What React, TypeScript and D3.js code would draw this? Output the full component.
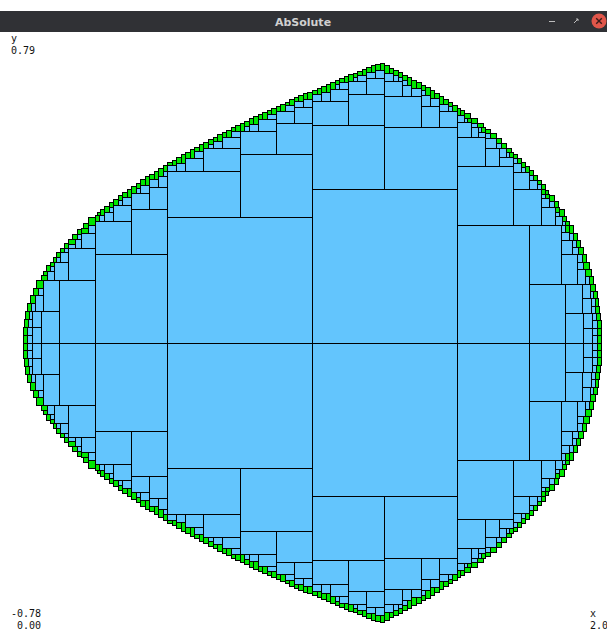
import React, { useMemo } from "react";
import * as d3 from "d3";

// Problem solved by AbSolute (interval paving of a 2D constraint system)
// constraint 1: E0*x^2 + E1*y^2 <= E2   (ellipse)
const ELLIPSE = [1, 4, 4];
// constraint 2: P0*y^2 <= x             (parabola)
const PARABOLA = [2];
// initial variable domains
const START_X = [-10, 10];
const START_Y = [-10, 10];
// solver precision
const PRECISION = 0.024;
// view window (data extents shown by the viewer)
const VIEW_X = [0, 2];
const VIEW_Y = [-0.786, 0.786];
// corner labels
const TITLE = "AbSolute";
const Y_NAME = "y";
const Y_MAX_LABEL = "0.79";
const Y_MIN_LABEL = "-0.78";
const X_MIN_LABEL = "0.00";
const X_NAME = "x";
const X_MAX_LABEL = "2.00";

type I = [number, number];
type Box = { x: I; y: I };

function sqr(i: I): I {
  const [a, b] = i;
  if (a >= 0) return [a * a, b * b];
  if (b <= 0) return [b * b, a * a];
  return [0, Math.max(a * a, b * b)];
}

function contract(box: Box): Box | null {
  let x: I = [box.x[0], box.x[1]];
  let y: I = [box.y[0], box.y[1]];
  const [a, b, c] = ELLIPSE;
  const p = PARABOLA[0];
  for (let it = 0; it < 60; it++) {
    const ox = [x[0], x[1]];
    const oy = [y[0], y[1]];
    let X2 = sqr(x);
    let Y2 = sqr(y);
    if (a * X2[0] + b * Y2[0] > c + 1e-12) return null;
    const x2hi = Math.min(X2[1], (c - b * Y2[0]) / a);
    const y2hi = Math.min(Y2[1], (c - a * X2[0]) / b);
    const rx = Math.sqrt(Math.max(0, x2hi));
    const ry = Math.sqrt(Math.max(0, y2hi));
    x = [Math.max(x[0], -rx), Math.min(x[1], rx)];
    y = [Math.max(y[0], -ry), Math.min(y[1], ry)];
    if (x[0] > x[1] || y[0] > y[1]) return null;
    Y2 = sqr(y);
    x = [Math.max(x[0], p * Y2[0]), x[1]];
    if (x[0] > x[1] || x[1] < 0) return null;
    const r2 = Math.sqrt(x[1] / p);
    y = [Math.max(y[0], -r2), Math.min(y[1], r2)];
    if (y[0] > y[1]) return null;
    const ch =
      Math.abs(ox[0] - x[0]) + Math.abs(ox[1] - x[1]) + Math.abs(oy[0] - y[0]) + Math.abs(oy[1] - y[1]);
    if (ch < 1e-12) break;
  }
  return { x, y };
}

function isInner(box: Box): boolean {
  const [a, b, c] = ELLIPSE;
  const p = PARABOLA[0];
  const X2 = sqr(box.x);
  const Y2 = sqr(box.y);
  return a * X2[1] + b * Y2[1] <= c && p * Y2[1] <= box.x[0];
}

function solve() {
  const inner: Box[] = [];
  const outer: Box[] = [];
  const stack: Box[] = [{ x: [START_X[0], START_X[1]], y: [START_Y[0], START_Y[1]] }];
  while (stack.length) {
    const raw = stack.pop()!;
    const box = contract(raw);
    if (!box) continue;
    if (isInner(box)) {
      inner.push(box);
      continue;
    }
    const wx = box.x[1] - box.x[0];
    const wy = box.y[1] - box.y[0];
    if (Math.max(wx, wy) < PRECISION) {
      outer.push(box);
      continue;
    }
    if (wx >= wy) {
      const m = (box.x[0] + box.x[1]) / 2;
      stack.push({ x: [box.x[0], m], y: box.y });
      stack.push({ x: [m, box.x[1]], y: box.y });
    } else {
      const m = (box.y[0] + box.y[1]) / 2;
      stack.push({ x: box.x, y: [box.y[0], m] });
      stack.push({ x: box.x, y: [m, box.y[1]] });
    }
  }
  return { inner, outer };
}

const W = 607;
const H = 631;

export default function App() {
  const { inner, outer } = useMemo(solve, []);
  const xs = d3.scaleLinear().domain(VIEW_X).range([22.6, 601.4]);
  const ys = d3.scaleLinear().domain(VIEW_Y).range([621.5, 63.5]);
  const rect = (b: Box, fill: string, k: number) => {
    const x0 = Math.round(xs(b.x[0])) + 0.5;
    const x1 = Math.round(xs(b.x[1])) + 0.5;
    const y0 = Math.round(ys(b.y[1])) + 0.5;
    const y1 = Math.round(ys(b.y[0])) + 0.5;
    return (
      <rect key={k} x={x0} y={y0} width={Math.max(x1 - x0, 1)} height={Math.max(y1 - y0, 1)} fill={fill} stroke="#000" strokeWidth={1} />
    );
  };
  const mono = "'DejaVu Sans Mono', monospace";
  return (
    <svg width={W} height={H} style={{ position: "absolute", left: 0, top: 0, background: "#fff" }}>
      <rect x={0} y={0} width={W} height={H} fill="#fff" />
      <rect x={0} y={11} width={W} height={21} fill="#303135" />
      <text x={303} y={26} textAnchor="middle" fontFamily="'DejaVu Sans', sans-serif" fontWeight="bold" fontSize={11} fill="#d0d0d0">
        {TITLE}
      </text>
      <line x1={549} x2={555} y1={21.5} y2={21.5} stroke="#bdbdbd" strokeWidth={1} />
      <path d="M574 23 L578 19 M576 19 L578 19 L578 21" stroke="#bdbdbd" strokeWidth={1} fill="none" />
      <circle cx={599} cy={21} r={7.5} fill="#e0564a" />
      <path d="M596.2 18.2 L601.8 23.8 M601.8 18.2 L596.2 23.8" stroke="#3a1a18" strokeWidth={1.4} />
      <g>{inner.map((b, i) => rect(b, "#63c5fd", i))}</g>
      <g>{outer.map((b, i) => rect(b, "#00e600", i))}</g>
      <g fontFamily={mono} fontSize={10} fill="#111">
        <text x={11} y={42}>{Y_NAME}</text>
        <text x={11} y={54}>{Y_MAX_LABEL}</text>
        <text x={11} y={617}>{Y_MIN_LABEL}</text>
        <text x={17} y={629}>{X_MIN_LABEL}</text>
        <text x={590} y={617}>{X_NAME}</text>
        <text x={590} y={629}>{X_MAX_LABEL}</text>
      </g>
    </svg>
  );
}
